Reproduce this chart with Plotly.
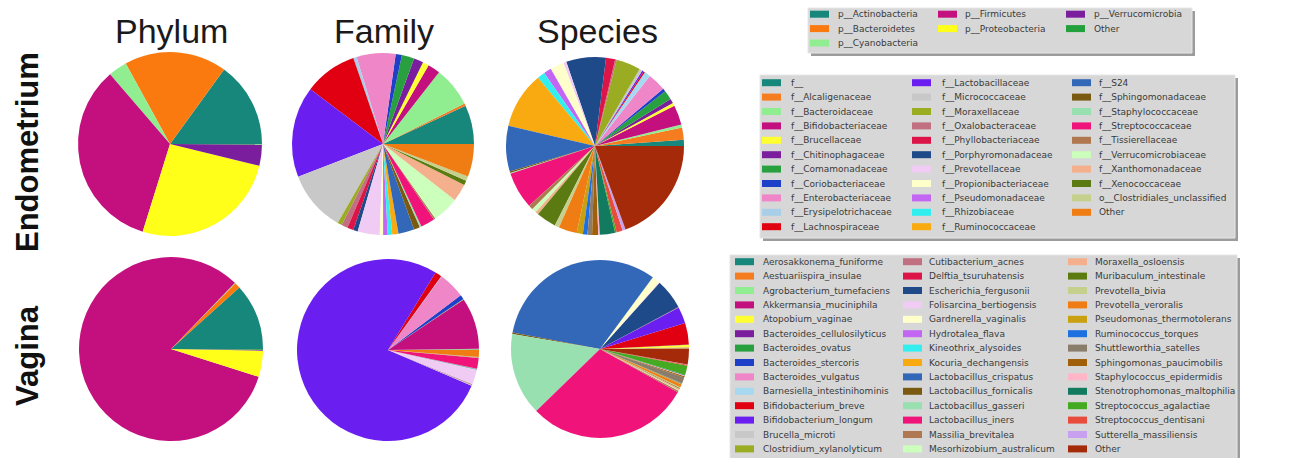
import plotly.graph_objects as go

W, H = 1292, 458

# ---------------- Phylum ----------------
phylum_labels = ["p__Actinobacteria", "p__Bacteroidetes", "p__Cyanobacteria",
                 "p__Firmicutes", "p__Proteobacteria", "p__Verrucomicrobia", "Other"]
phylum_colors = ["#17877b", "#fb7a10", "#90ee90", "#c4107e", "#ffff1a", "#7a1e9e", "#22a03c"]
phylum_endometrium = [15.0, 18.0, 3.3, 33.9, 26.0, 3.7, 0.1]
phylum_vagina = [11.7, 1.0, 0.1, 82.5, 4.6, 0.15, 0.15]

# ---------------- Family ----------------
family_labels = ["f__", "f__Alcaligenaceae", "f__Bacteroidaceae", "f__Bifidobacteriaceae",
                 "f__Brucellaceae", "f__Chitinophagaceae", "f__Comamonadaceae",
                 "f__Coriobacteriaceae", "f__Enterobacteriaceae", "f__Erysipelotrichaceae",
                 "f__Lachnospiraceae", "f__Lactobacillaceae", "f__Micrococcaceae",
                 "f__Moraxellaceae", "f__Oxalobacteraceae", "f__Phyllobacteriaceae",
                 "f__Porphyromonadaceae", "f__Prevotellaceae", "f__Propionibacteriaceae",
                 "f__Pseudomonadaceae", "f__Rhizobiaceae", "f__Ruminococcaceae", "f__S24",
                 "f__Sphingomonadaceae", "f__Staphylococcaceae", "f__Streptococcaceae",
                 "f__Tissierellaceae", "f__Verrucomicrobiaceae", "f__Xanthomonadaceae",
                 "f__Xenococcaceae", "o__Clostridiales_unclassified", "Other"]
family_colors = ["#17877b", "#f57c1f", "#90ee90", "#c4107e", "#ffff33", "#7a1e9e", "#28a040",
                 "#1e40c8", "#ee86c8", "#a9cfe8", "#e00012", "#6a1ff0", "#c8c8c8", "#9aac22",
                 "#c07080", "#dc1448", "#1f4a8a", "#f0ccf4", "#ffffcc", "#c466f4", "#33eeee",
                 "#f8aa10", "#3367b8", "#7a5a10", "#98e0b0", "#f0147a", "#b07850", "#ccffbb",
                 "#f4b08c", "#5c7a12", "#c4d08c", "#f07c14"]
family_endometrium = [6.9, 0.4, 7.1, 2.2, 1.1, 1.7, 2.2, 1.1, 6.9, 0.6, 9.4, 16.1, 10.8,
                      0.8, 1.1, 1.1, 0.8, 3.9, 0.6, 0.8, 0.8, 1.1, 2.8, 1.1, 0.3, 2.5,
                      0.3, 4.7, 3.1, 0.8, 0.8, 5.8]
family_vagina = [0.1, 0.05, 0.05, 9.2, 0.03, 0.03, 0.03, 0.8, 4.7, 0.1, 1.2, 77.5, 0.15,
                 0.03, 0.03, 0.03, 0.05, 2.6, 0.05, 0.03, 0.03, 0.03, 0.05, 0.03, 0.05, 1.9,
                 0.03, 0.03, 0.03, 0.03, 0.03, 1.25]

# ---------------- Species ----------------
species_labels = ["Aerosakkonema_funiforme", "Aestuariispira_insulae", "Agrobacterium_tumefaciens",
                  "Akkermansia_muciniphila", "Atopobium_vaginae", "Bacteroides_cellulosilyticus",
                  "Bacteroides_ovatus", "Bacteroides_stercoris", "Bacteroides_vulgatus",
                  "Barnesiella_intestinihominis", "Bifidobacterium_breve", "Bifidobacterium_longum",
                  "Brucella_microti", "Clostridium_xylanolyticum", "Cutibacterium_acnes",
                  "Delftia_tsuruhatensis", "Escherichia_fergusonii", "Folisarcina_bertiogensis",
                  "Gardnerella_vaginalis", "Hydrotalea_flava", "Kineothrix_alysoides",
                  "Kocuria_dechangensis", "Lactobacillus_crispatus", "Lactobacillus_fornicalis",
                  "Lactobacillus_gasseri", "Lactobacillus_iners", "Massilia_brevitalea",
                  "Mesorhizobium_australicum", "Moraxella_osloensis", "Muribaculum_intestinale",
                  "Prevotella_bivia", "Prevotella_veroralis", "Pseudomonas_thermotolerans",
                  "Ruminococcus_torques", "Shuttleworthia_satelles", "Sphingomonas_paucimobilis",
                  "Staphylococcus_epidermidis", "Stenotrophomonas_maltophilia",
                  "Streptococcus_agalactiae", "Streptococcus_dentisani", "Sutterella_massiliensis",
                  "Other"]
species_colors = ["#17877b", "#f57c1f", "#90ee90", "#c4107e", "#ffff33", "#7a1e9e", "#28a040",
                  "#1e40c8", "#ee86c8", "#a6d8f0", "#e00012", "#6a1ff0", "#c8c8c8", "#9aac22",
                  "#c07080", "#dc1448", "#1f4a8a", "#f0ccf4", "#ffffcc", "#c466f4", "#33eeee",
                  "#f8aa10", "#3367b8", "#7a5a10", "#98e0b0", "#f0147a", "#b07850", "#ccffbb",
                  "#f4b08c", "#5c7a12", "#c4d08c", "#f07c14", "#c8a010", "#1e6fe0", "#8b7d6b",
                  "#a0600a", "#ffb6c8", "#127a5e", "#44aa22", "#e84c3c", "#c8a0f0", "#a52a0a"]
species_endometrium = [4, 8, 2, 13, 2, 3, 6, 2, 12, 4, 1, 1, 2, 16, 1, 6, 26, 2, 9, 5, 5,
                       37, 30, 1, 0.5, 24, 3, 3, 2, 13, 3, 12, 4, 3, 3, 4, 1, 10, 1, 4, 2, 70]
species_vagina = [0.3, 0.5, 0.1, 0.3, 1.5, 0.05, 0.05, 0.05, 0.05, 0.05, 14, 11, 0.05, 0.05,
                  0.05, 0.05, 20, 0.5, 5, 0.05, 0.05, 0.05, 116, 1, 54, 107, 1, 0.5, 1, 0.5,
                  0.5, 2, 0.5, 0.3, 4, 1, 0.5, 0.5, 6, 0.5, 0.3, 10]

column_titles = ["Phylum", "Family", "Species"]
row_titles = ["Endometrium", "Vagina"]

fig = go.Figure()


def px_x(x):
    return x / W


def px_y(y):
    return 1 - y / H


def add_pie(labels, values, colors, cx, cy, r):
    # counterclockwise wedges whose first wedge begins at 3 o'clock:
    # plotly places the first counterclockwise wedge clockwise of `rotation`
    first_deg = 360.0 * values[0] / sum(values)
    fig.add_trace(go.Pie(
        labels=labels, values=values, sort=False,
        direction="counterclockwise", rotation=90 - first_deg,
        marker=dict(colors=colors, line=dict(width=0)),
        textinfo="none", hoverinfo="label+percent", showlegend=False,
        domain=dict(x=[px_x(cx - r), px_x(cx + r)], y=[px_y(cy + r), px_y(cy - r)]),
    ))


add_pie(phylum_labels, phylum_endometrium, phylum_colors, 170, 144, 92)
add_pie(family_labels, family_endometrium, family_colors, 383, 144, 91)
add_pie(species_labels, species_endometrium, species_colors, 595, 146, 89)
add_pie(phylum_labels, phylum_vagina, phylum_colors, 171, 349, 92)
add_pie(family_labels, family_vagina, family_colors, 388, 350, 91)
add_pie(species_labels, species_vagina, species_colors, 600, 349, 89)

annotations = []
shapes = []

# column and row headings
for title, cx in zip(column_titles, [171, 384, 597]):
    annotations.append(dict(x=px_x(cx), y=px_y(31), xref="paper", yref="paper",
                            text=title, showarrow=False, xanchor="center", yanchor="middle",
                            font=dict(family="Liberation Sans, Arial", size=34, color="#1a1a1a")))
for title, cy in zip(row_titles, [152, 355]):
    annotations.append(dict(x=px_x(27), y=px_y(cy), xref="paper", yref="paper",
                            text="<b>%s</b>" % title, showarrow=False, textangle=-90,
                            xanchor="center", yanchor="middle",
                            font=dict(family="Liberation Sans, Arial", size=31, color="#111111")))


def column_sizes(n, ncol):
    base, extra = divmod(n, ncol)
    return [base + (1 if i < extra else 0) for i in range(ncol)]


def add_legend(labels, colors, box, swatch_x, text_x, row0, dy):
    x0, y0, x1, y1 = box
    # drop shadow then box
    shapes.append(dict(type="rect", xref="paper", yref="paper",
                       x0=px_x(x0 + 3), x1=px_x(x1 + 3), y0=px_y(y1 + 3), y1=px_y(y0 + 3),
                       fillcolor="#9c9c9c", line=dict(width=0), layer="above"))
    shapes.append(dict(type="rect", xref="paper", yref="paper",
                       x0=px_x(x0), x1=px_x(x1), y0=px_y(y1), y1=px_y(y0),
                       fillcolor="#d7d7d7", line=dict(color="#e6e6e6", width=1), layer="above"))
    sizes = column_sizes(len(labels), len(swatch_x))
    k = 0
    for c, n in enumerate(sizes):
        for r in range(n):
            yc = row0 + r * dy
            shapes.append(dict(type="rect", xref="paper", yref="paper",
                               x0=px_x(swatch_x[c]), x1=px_x(swatch_x[c] + 19),
                               y0=px_y(yc + 3.5), y1=px_y(yc - 3.5),
                               fillcolor=colors[k], line=dict(width=0), layer="above"))
            annotations.append(dict(x=px_x(text_x[c]), y=px_y(yc), xref="paper", yref="paper",
                                    text=labels[k], showarrow=False,
                                    xanchor="left", yanchor="middle",
                                    font=dict(family="DejaVu Sans", size=9, color="#3a3a3a")))
            k += 1


add_legend(phylum_labels, phylum_colors, (808, 8, 1192, 53),
           [810, 938, 1066], [836, 963, 1092], 14.2, 14.4)
add_legend(family_labels, family_colors, (760, 75, 1235, 238),
           [762, 912, 1072], [789, 940, 1097], 82.7, 14.4)
add_legend(species_labels, species_colors, (730, 255, 1237, 470),
           [735, 903, 1068], [761, 927, 1093], 261.7, 14.4)

fig.update_layout(
    width=W, height=H,
    margin=dict(l=0, r=0, t=0, b=0),
    paper_bgcolor="white", plot_bgcolor="white",
    annotations=annotations, shapes=shapes,
)

fig.write_html("out.html")
